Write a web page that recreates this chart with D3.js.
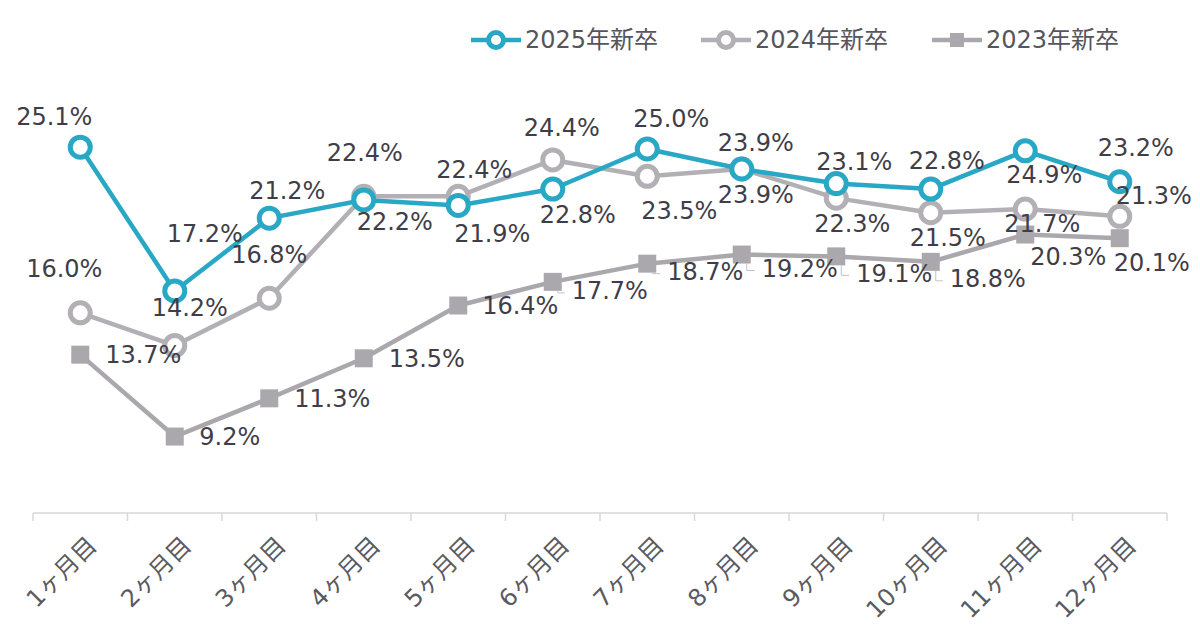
<!DOCTYPE html>
<html lang="ja">
<head>
<meta charset="UTF-8">
<title>新卒 月次推移</title>
<script src="https://d3js.org/d3.v7.min.js"></script>
<style>
    body { margin: 0; background: #ffffff; }
    svg { display: block; }
    .data-label { font-family: "DejaVu Sans", "Noto Sans CJK JP", sans-serif; font-size: 24px; fill: #3f3e48; }
    .axis-label { font-family: "DejaVu Sans", "Noto Sans CJK JP", sans-serif; font-size: 24px; fill: #5a5a5f; }
    .legend-text { font-family: "DejaVu Sans", "Noto Sans CJK JP", sans-serif; font-size: 24px; fill: #55555c; }
</style>
</head>
<body>
<svg id="chart" width="1200" height="640"></svg>
<script>
// --- data ---
const months = ["1ヶ月目", "2ヶ月目", "3ヶ月目", "4ヶ月目", "5ヶ月目", "6ヶ月目",
                "7ヶ月目", "8ヶ月目", "9ヶ月目", "10ヶ月目", "11ヶ月目", "12ヶ月目"];
const seriesNames = ["2025年新卒", "2024年新卒", "2023年新卒"];
const values2025 = [25.1, 17.2, 21.2, 22.2, 21.9, 22.8, 25.0, 23.9, 23.1, 22.8, 24.9, 23.2];
const values2024 = [16.0, 14.2, 16.8, 22.4, 22.4, 24.4, 23.5, 23.9, 22.3, 21.5, 21.7, 21.3];
const values2023 = [13.7, 9.2, 11.3, 13.5, 16.4, 17.7, 18.7, 19.2, 19.1, 18.8, 20.3, 20.1];

// label placement (offsets from the point, px)
const offs2025 = [[-26,-31],[30,-57],[18,-28],[31,22],[34,28],[25,26],[24,-30],[14,-26],[18,-22],[16,-28],[19,24],[16,-34]];
const offs2024 = [[-16,-44],[15,-38],[0,-44],[1,-44],[16,-27],[9,-32],[32,34],[14,26],[16,25],[17,25],[17,15],[34,-21]];
const offs2023 = [[63,0],[55,0],[63,0],[63,0],[62,0],[57,9],[58,8],[58,14],[58,17],[57,17],[43,22],[32,24]];
const leaderIdx2023 = [5, 6, 7, 8, 9];

const colors = { teal: "#29a8c6", gray24: "#b2b0b5", gray23: "#aaa8ad" };

const svg = d3.select("#chart");

const x = d3.scaleBand().domain(months).range([33, 1167]);
const cx = d => x(d) + x.bandwidth() / 2;
const y = d3.scaleLinear().domain([5, 30]).range([513, 58]);

// --- x axis ---
const axisG = svg.append("g");
axisG.append("line")
    .attr("x1", x.range()[0]).attr("x2", x.range()[1])
    .attr("y1", y(5)).attr("y2", y(5))
    .attr("stroke", "#d9d6dc").attr("stroke-width", 1.5);
const edges = months.map(m => x(m)).concat([x.range()[1]]);
axisG.selectAll(".tick").data(edges).enter().append("line")
    .attr("x1", d => d).attr("x2", d => d)
    .attr("y1", y(5)).attr("y2", y(5) + 8)
    .attr("stroke", "#d9d6dc").attr("stroke-width", 1.5);
axisG.selectAll(".axis-label").data(months).enter().append("text")
    .attr("class", "axis-label")
    .attr("text-anchor", "end")
    .attr("dy", "0.35em")
    .attr("transform", d => `translate(${cx(d) + 12},${y(5) + 28}) rotate(-45)`)
    .text(d => d);

const line = d3.line().x((d, i) => cx(months[i])).y(d => y(d));

function drawSeries(values, color, marker) {
    const g = svg.append("g");
    g.append("path").datum(values)
        .attr("d", line)
        .attr("fill", "none")
        .attr("stroke", color)
        .attr("stroke-width", 4.5)
        .attr("stroke-linejoin", "round");
    if (marker === "circle") {
        g.selectAll("circle").data(values).enter().append("circle")
            .attr("cx", (d, i) => cx(months[i]))
            .attr("cy", d => y(d))
            .attr("r", 10)
            .attr("fill", "#ffffff")
            .attr("stroke", color)
            .attr("stroke-width", 5);
    } else {
        g.selectAll("rect").data(values).enter().append("rect")
            .attr("x", (d, i) => cx(months[i]) - 9)
            .attr("y", d => y(d) - 9)
            .attr("width", 18).attr("height", 18)
            .attr("fill", color);
    }
    return g;
}

function drawLabels(values, offs) {
    svg.append("g").selectAll("text").data(values).enter().append("text")
        .attr("class", "data-label")
        .attr("text-anchor", "middle")
        .attr("dy", "0.35em")
        .attr("x", (d, i) => cx(months[i]) + offs[i][0])
        .attr("y", (d, i) => y(d) + offs[i][1])
        .text(d => d.toFixed(1) + "%");
}

drawSeries(values2023, colors.gray23, "square");
drawSeries(values2024, colors.gray24, "circle");
drawSeries(values2025, colors.teal, "circle");

// small leader lines for some 2023 labels
svg.append("g").selectAll("path").data(leaderIdx2023).enter().append("path")
    .attr("d", i => {
        const px = cx(months[i]), py = y(values2023[i]);
        const lx = px + offs2023[i][0] - 45, ly = py + offs2023[i][1] + 2;
        return `M${px + 5},${py + 9} L${px + 5},${ly} L${lx},${ly}`;
    })
    .attr("fill", "none")
    .attr("stroke", "#c4c2c7")
    .attr("stroke-width", 1);

drawLabels(values2025, offs2025);
drawLabels(values2024, offs2024);
drawLabels(values2023, offs2023);

// --- legend ---
const legendItems = [
    { name: seriesNames[0], color: colors.teal, marker: "circle", x: 471 },
    { name: seriesNames[1], color: colors.gray24, marker: "circle", x: 701 },
    { name: seriesNames[2], color: colors.gray23, marker: "square", x: 932 }
];
const lg = svg.append("g").selectAll("g").data(legendItems).enter().append("g")
    .attr("transform", d => `translate(${d.x},40)`);
lg.append("line")
    .attr("x1", 0).attr("x2", 50).attr("y1", 0).attr("y2", 0)
    .attr("stroke", d => d.color).attr("stroke-width", 4.5);
lg.filter(d => d.marker === "circle").append("circle")
    .attr("cx", 25).attr("cy", 0).attr("r", 7.5)
    .attr("fill", "#ffffff").attr("stroke", d => d.color).attr("stroke-width", 5);
lg.filter(d => d.marker === "square").append("rect")
    .attr("x", 18).attr("y", -7).attr("width", 14).attr("height", 14)
    .attr("fill", d => d.color);
lg.append("text")
    .attr("class", "legend-text")
    .attr("x", 54).attr("dy", "0.35em")
    .text(d => d.name);
</script>
</body>
</html>
